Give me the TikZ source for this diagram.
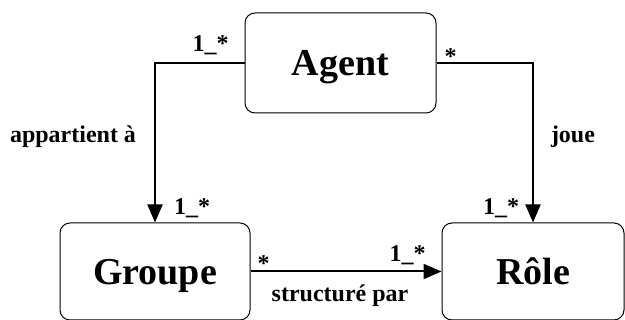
\documentclass[tikz,border=0pt]{standalone}
\usepackage{fontspec}
\setmainfont{Liberation Serif}
\usetikzlibrary{positioning, arrows.meta, calc}

\begin{document}
\begin{tikzpicture}[x=1pt, y=1pt,
  font=\bfseries\fontsize{24}{26}\selectfont,
  e/.style={draw, line width=1pt, rounded corners=10pt, align=center, inner sep=0pt,
            font=\bfseries\fontsize{38}{40}\selectfont, text height=26pt, text depth=0pt},
  arr/.style={-{Triangle[length=18pt, width=15pt]}, line width=2pt},
  mult/.style={inner sep=0pt}
]
  \useasboundingbox (0,0) rectangle (625,320);

  \node[e, minimum width=191pt, minimum height=100pt] (agent) at (340.5,257) {Agent};
  \node[e, minimum width=190pt, minimum height=97pt] (groupe) at (155,48.5) {Groupe};
  \node[e, minimum width=182pt, minimum height=97pt] (role) at (533,48.5) {Rôle};

  \draw[arr] (agent.west) -|
    node[mult, at start, anchor=base east, xshift=-15pt, yshift=11pt] (m1) {1\_*}
    node[mult, pos=0.75, anchor=base east, xshift=-18pt] (lapp) {appartient à}
    node[mult, at end, anchor=base west, xshift=18pt, yshift=8pt] (m2) {1\_*}
    (groupe.north);
  \draw[arr] (agent.east) -|
    node[mult, at start, anchor=base west, xshift=7pt, yshift=-2pt] (m3) {*}
    node[mult, pos=0.75, anchor=base west, xshift=17pt] (ljoue) {joue}
    node[mult, at end, anchor=base east, xshift=-13pt, yshift=8pt] (m4) {1\_*}
    (role.north);
  \draw[arr] (groupe.east) --
    node[mult, at start, anchor=base west, xshift=6pt] (m5) {*}
    node[mult, midway, anchor=base, xshift=-6pt, yshift=-30pt] (lstr) {structuré par}
    node[mult, at end, anchor=base east, xshift=-15pt, yshift=10pt] (m6) {1\_*}
    (role.west);
\end{tikzpicture}
\end{document}
